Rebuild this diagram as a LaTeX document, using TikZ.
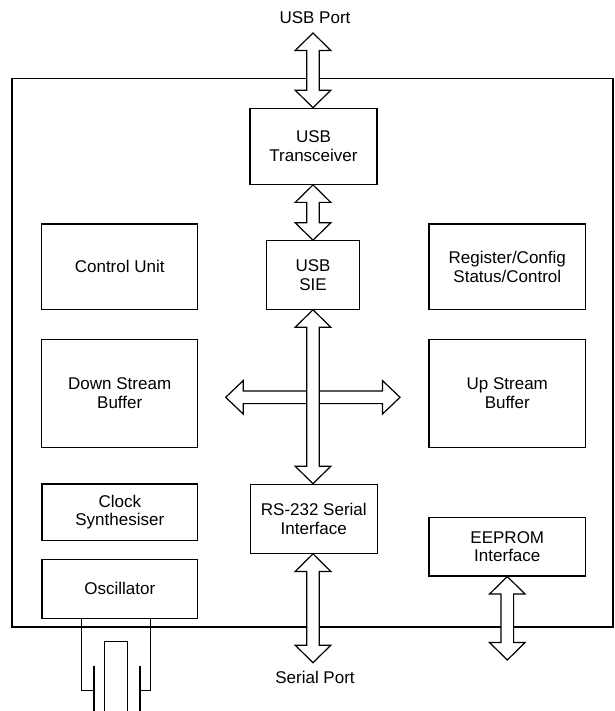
\documentclass[tikz,border=0pt]{standalone}
\usepackage{fontspec}
\setmainfont{Liberation Sans}
\usetikzlibrary{
    arrows.meta,
    positioning,
    calc
}

\tikzset{
    box/.style={draw, line width=1.2pt, align=center, inner sep=2pt,
                font=\fontsize{17}{18.5}\selectfont},
    hollow/.style={draw, fill=white, line width=1.2pt, line join=miter},
    lbl/.style={font=\fontsize{17}{18.5}\selectfont}
}

% hollow double arrow, top tip first
\newcommand{\vdblarrow}[2]{%
    \filldraw[hollow] let \p1=(#1), \p2=(#2) in
        (\x1,\y1) -- (\x1-17.8pt,\y1-17.5pt) -- (\x1-6.3pt,\y1-17.5pt)
        -- (\x1-6.3pt,\y2+17.5pt) -- (\x1-17.8pt,\y2+17.5pt) -- (\x1,\y2)
        -- (\x1+17.8pt,\y2+17.5pt) -- (\x1+6.3pt,\y2+17.5pt)
        -- (\x1+6.3pt,\y1-17.5pt) -- (\x1+17.8pt,\y1-17.5pt) -- cycle;
}
% hollow double arrow, left tip first
\newcommand{\hdblarrow}[2]{%
    \filldraw[hollow] let \p1=(#1), \p2=(#2) in
        (\x1,\y1) -- (\x1+17.5pt,\y1+16.7pt) -- (\x1+17.5pt,\y1+6.3pt)
        -- (\x2-17.5pt,\y1+6.3pt) -- (\x2-17.5pt,\y1+16.7pt) -- (\x2,\y1)
        -- (\x2-17.5pt,\y1-16.7pt) -- (\x2-17.5pt,\y1-6.3pt)
        -- (\x1+17.5pt,\y1-6.3pt) -- (\x1+17.5pt,\y1-16.7pt) -- cycle;
}

\begin{document}
\begin{tikzpicture}[x=1pt, y=-1pt]
    \useasboundingbox (0,0) rectangle (614,711);

    % chip outline
    \draw[line width=1.2pt] (12,78.5) rectangle (613,627);

    % centre column
    \node[box, minimum width=127pt, minimum height=76pt] (trans) at (313.5,146.3) {USB\\Transceiver};
    \node[box, minimum width=92.6pt, minimum height=68.3pt] (sie) at (313,275) {USB\\SIE};
    \node[box, minimum width=126.6pt, minimum height=69pt] (rs) at (313.8,518.8) {RS-232 Serial\\Interface};

    % left column
    \node[box, minimum width=156pt, minimum height=85.3pt] (ctrl) at (119.7,266.7) {Control Unit};
    \node[box, minimum width=156pt, minimum height=108pt] (down) at (119.7,393.3) {Down Stream\\Buffer};
    \node[box, minimum width=155.7pt, minimum height=56.7pt] (clock) at (119.8,512.3) {Clock\\Synthesiser};
    \node[box, minimum width=155.7pt, minimum height=59pt] (osc) at (119.8,588.8) {Oscillator};

    % right column
    \node[box, minimum width=156.7pt, minimum height=85.3pt] (reg) at (507.3,266.7) {Register/Config\\Status/Control};
    \node[box, minimum width=156.7pt, minimum height=108pt] (up) at (507.3,393.3) {Up Stream\\Buffer};
    \node[box, minimum width=156.7pt, minimum height=58.3pt] (eeprom) at (507.3,546.8) {EEPROM\\Interface};

    % ports
    \coordinate (usbtip) at (313,33);
    \coordinate (sertip) at (313,662.7);
    \coordinate (eetip) at (507.3,660);
    \coordinate (bufL) at (225.7,397.3);
    \coordinate (bufR) at (400,397.3);
    \node[lbl] (usbport) at (315,18) {USB Port};
    \node[lbl] (serport) at (315,677) {Serial Port};

    % buses
    \vdblarrow{usbtip}{trans.north -| usbtip}
    \vdblarrow{trans.south -| usbtip}{sie.north -| usbtip}
    \hdblarrow{bufL}{bufR}
    \vdblarrow{sie.south -| usbtip}{rs.north -| usbtip}
    \vdblarrow{rs.south -| usbtip}{sertip}
    \vdblarrow{eeprom.south}{eetip}

    % crystal
    \draw[line width=1.2pt] (osc.south -| 81.7,0) |- (94,690.7);
    \draw[line width=1.2pt] (osc.south -| 150.7,0) |- (140,690.7);
    \draw[line width=1.2pt] (94,666) -- (94,711);
    \draw[line width=1.2pt] (140,666) -- (140,711);
    \draw[line width=1.2pt] (104.3,711) |- (127.7,641.7) -- (127.7,711);
\end{tikzpicture}
\end{document}
